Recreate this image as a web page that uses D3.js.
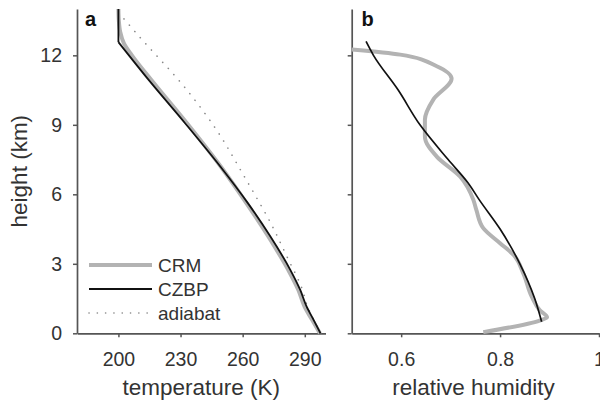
<!DOCTYPE html>
<html><head><meta charset="utf-8">
<script src="https://cdn.jsdelivr.net/npm/d3@7"></script>
<style>
body{margin:0;background:#fff;}
svg{display:block;font-family:"Liberation Sans",Arial,Helvetica,sans-serif;}
</style></head>
<body><svg id="c" width="600" height="403"></svg>
<script>
// ---- data ----
const heightTicks = [0, 3, 6, 9, 12];
const tempTicks = [200, 230, 260, 290];
const rhTicks = [0.6, 0.8, 1];
const legendLabels = ["CRM", "CZBP", "adiabat"];

// panel a: temperature (K) vs height (km)
const crmTempH = [0, 0.57, 1.15, 1.87, 2.74, 4.18, 5.62, 7.2, 9.08, 10.95, 12.0, 12.53, 13.0, 13.5, 14];
const crmTemp  = [297.3, 293.6, 289.9, 286.9, 282.0, 272.4, 261.8, 249.4, 233.0, 215.8, 206.5, 202.6, 200.9, 200.2, 200];
const czbpTempH = [0, 0.57, 1.15, 1.87, 2.74, 4.18, 5.62, 7.2, 9.08, 10.95, 12.57, 14];
const czbpTemp  = [297.6, 294.3, 290.9, 287.8, 283.0, 273.4, 262.5, 249.2, 232.1, 214.5, 200, 200];
const adiaH = [0, 0.57, 1.15, 1.87, 3.31, 4.97, 5.98, 6.89, 8.79, 10.5, 12.94, 13.77];
const adiaTemp = [297.6, 294.4, 291.3, 288.9, 281.4, 272.3, 265.9, 260.0, 247.3, 233.1, 208.8, 200.8];

// panel b: relative humidity vs height (km)
const crmRhH = [0.05, 0.55, 0.69, 1.0, 1.58, 2.59, 3.39, 3.89, 4.54, 5.33, 5.76, 6.77, 7.63, 8.5, 9.22, 10.09, 11.0, 11.53, 12.03, 12.25];
const crmRh  = [0.766, 0.880, 0.895, 0.880, 0.864, 0.847, 0.827, 0.800, 0.766, 0.752, 0.746, 0.719, 0.672, 0.648, 0.648, 0.665, 0.702, 0.672, 0.598, 0.5];
const czbpRhH = [0.5, 1.5, 3, 4.5, 5.76, 6.5, 7.5, 9, 10.5, 12, 12.6];
const czbpRh  = [0.884, 0.870, 0.840, 0.800, 0.758, 0.735, 0.695, 0.638, 0.594, 0.544, 0.529];

// ---- layout ----
const svg = d3.select("#c");
const axisColor = "#555", textColor = "#333";
const y = d3.scaleLinear().domain([0, 14]).range([333.3, 9]);
const xA = d3.scaleLinear().domain([180, 300]).range([77, 325.5]);
const xB = d3.scaleLinear().domain([0.5, 1.0]).range([351.7, 599]);

function styleAxis(g){
  g.selectAll(".domain").attr("stroke", axisColor).attr("stroke-width", 1.7);
  g.selectAll(".tick line").attr("stroke", axisColor).attr("stroke-width", 1.5);
  g.selectAll(".tick text").attr("fill", textColor).attr("font-size", 19.5)
    .attr("font-family", '"Liberation Sans",Arial,Helvetica,sans-serif');
}

// panel a axes
svg.append("g").attr("transform", `translate(${xA.range()[0]},0)`)
  .call(d3.axisLeft(y).tickValues(heightTicks).tickSize(4).tickSizeOuter(0).tickPadding(11).tickFormat(d3.format("d")))
  .call(styleAxis);
svg.append("g").attr("transform", `translate(0,${y(0)})`)
  .call(d3.axisBottom(xA).tickValues(tempTicks).tickSize(4).tickSizeOuter(0).tickPadding(15).tickFormat(d3.format("d")))
  .call(styleAxis);

// panel b axes
svg.append("g").attr("transform", `translate(${xB.range()[0]},0)`)
  .call(d3.axisLeft(y).tickValues(heightTicks).tickSize(4).tickSizeOuter(0).tickFormat(""))
  .call(styleAxis);
svg.append("g").attr("transform", `translate(0,${y(0)})`)
  .call(d3.axisBottom(xB).tickValues(rhTicks).tickSize(4).tickSizeOuter(0).tickPadding(15).tickFormat(d => d === 1 ? "1" : d3.format(".1f")(d)))
  .call(styleAxis);

// lines
const smooth = d3.curveMonotoneY;
function draw(xs, ys, xScale, stroke, width, dash, curve){
  const pts = xs.map((v, i) => [xScale(v), y(ys[i])]);
  svg.append("path").datum(pts)
    .attr("d", d3.line().curve(curve)(pts))
    .attr("fill", "none").attr("stroke", stroke).attr("stroke-width", width)
    .attr("stroke-linejoin", "round").attr("stroke-linecap", dash ? "round" : "butt")
    .attr("stroke-dasharray", dash || null);
}
const crmColor = "#b3b3b3", czbpColor = "#111", adiaColor = "#888";
draw(crmTemp, crmTempH, xA, crmColor, 4, null, smooth);
draw(adiaTemp, adiaH, xA, adiaColor, 1.6, "0.1 8.2", smooth);
// CZBP: smooth troposphere, then a sharp corner into the vertical stratosphere segment
draw(czbpTemp.slice(0, -1), czbpTempH.slice(0, -1), xA, czbpColor, 1.8, null, smooth);
draw(czbpTemp.slice(-2), czbpTempH.slice(-2), xA, czbpColor, 1.8, null, d3.curveLinear);
draw(crmRh, crmRhH, xB, crmColor, 4, null, smooth);
draw(czbpRh, czbpRhH, xB, czbpColor, 1.7, null, smooth);

// legend
const leg = [
  {label: legendLabels[0], color: crmColor, w: 4, dash: null},
  {label: legendLabels[1], color: czbpColor, w: 1.8, dash: null},
  {label: legendLabels[2], color: adiaColor, w: 1.6, dash: "0.1 8.2"}
];
leg.forEach((d, i) => {
  const ly = 265 + i * 24;
  svg.append("line").attr("x1", 89).attr("x2", 152).attr("y1", ly).attr("y2", ly)
    .attr("stroke", d.color).attr("stroke-width", d.w)
    .attr("stroke-dasharray", d.dash).attr("stroke-linecap", d.dash ? "round" : "butt");
  svg.append("text").attr("x", 158).attr("y", ly + 7).attr("fill", textColor)
    .attr("font-size", 19).text(d.label);
});

// panel labels
svg.append("text").attr("x", 85).attr("y", 26).attr("font-weight", "bold").attr("font-size", 20).attr("fill", "#111").text("a");
svg.append("text").attr("x", 361.5).attr("y", 26).attr("font-weight", "bold").attr("font-size", 20).attr("fill", "#111").text("b");

// axis titles
svg.append("text").attr("x", (xA.range()[0] + xA.range()[1]) / 2).attr("y", 395)
  .attr("text-anchor", "middle").attr("font-size", 22.5).attr("fill", textColor).text("temperature (K)");
svg.append("text").attr("x", 473.5).attr("y", 395)
  .attr("text-anchor", "middle").attr("font-size", 22.5).attr("fill", textColor).text("relative humidity");
svg.append("text").attr("transform", `translate(27,${(y(0) + y(14)) / 2}) rotate(-90)`)
  .attr("text-anchor", "middle").attr("font-size", 22.5).attr("fill", textColor).text("height (km)");
</script></body></html>
